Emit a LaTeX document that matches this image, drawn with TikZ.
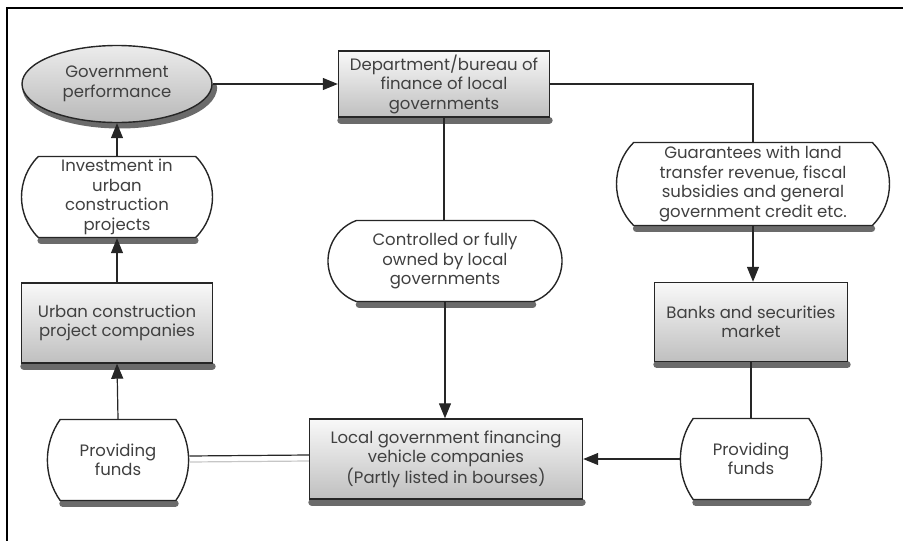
\documentclass[tikz,border=0pt]{standalone}
\usepackage{fontspec}
\setmainfont{Poppins}
\usetikzlibrary{shapes.geometric,shapes.misc,backgrounds,arrows.meta}

\begin{document}
\begin{tikzpicture}[x=1pt,y=-1pt,
  every node/.style={font=\fontsize{16.5}{19.5}\selectfont, text=black!75, align=center,
    inner sep=0pt, line width=1.4pt, draw=black!85},
  greybox/.style={rectangle, top color=gray!5, bottom color=gray!50},
  pill/.style={fill=white},
  pillA/.style={rounded rectangle, rounded rectangle arc length=90},
  pillB/.style={rounded rectangle, rounded rectangle arc length=140},
  pillC/.style={rounded rectangle, rounded rectangle arc length=70},
  oval/.style={ellipse, top color=gray!15, bottom color=gray!55},
  shadowline/.style={line width=7pt, draw=black!58, line cap=round},
  link/.style={line width=1.2pt, draw=black!85},
  tip/.style={link, -{Triangle[length=15pt,width=12pt]}}]
  \useasboundingbox (0,0) rectangle (903,541);
  % frame
  \draw[line width=2.6pt] (7,541) -- (7,8) -- (903,8);
  % nodes
  \node[oval, minimum width=190pt, minimum height=77pt] (gov) at (117,84) {Government\\performance};
  \node[greybox, minimum width=211pt, minimum height=66pt] (dept) at (444,84) {Department/bureau of\\finance of local\\governments};
  \node[pill, pillA, minimum width=191pt, minimum height=81pt] (invest) at (117,197) {Investment in\\urban\\construction\\projects};
  \node[greybox, minimum width=191pt, minimum height=80pt] (urban) at (117,323) {Urban construction\\project companies};
  \node[pill, pillC, minimum width=120pt, minimum height=81pt] (prov1) at (118,460) {Providing\\funds};
  \node[pill, pillB, minimum width=234pt, minimum height=81pt] (ctrl) at (445,261) {Controlled or fully\\owned by local\\governments};
  \node[greybox, minimum width=273pt, minimum height=80pt] (lgfv) at (446,459) {Local government financing\\vehicle companies\\(Partly listed in bourses)};
  \node[pill, pillA, minimum width=273pt, minimum height=83pt] (guar) at (753,184) {Guarantees with land\\transfer revenue, fiscal\\subsidies and general\\government credit etc.};
  \node[greybox, minimum width=193pt, minimum height=79pt] (banks) at (751,322) {Banks and securities\\market};
  \node[pill, pillC, minimum width=121pt, minimum height=81pt] (prov2) at (751,459) {Providing\\funds};
  % shadows
  \begin{scope}[on background layer]
    \foreach \n in {dept,invest,urban,prov1,ctrl,lgfv,guar,banks,prov2}
      \draw[shadowline] ([shift={(3pt,-2.5pt)}]\n.south west) -- ([shift={(-1pt,-2.5pt)}]\n.south east);
    \draw[shadowline] ([shift={(1pt,-3pt)}]gov.east) arc[start angle=0, end angle=180, x radius=94, y radius=38];
  \end{scope}
  % connectors
  \draw[tip] (gov.east) -- (gov.east -| dept.west);
  \draw[link] (dept.east) -| (guar.north);
  \draw[tip] (guar.south) -- (guar.south |- banks.north);
  \draw[link] (banks.south) -- (banks.south |- prov2.north);
  \draw[tip] (prov2.west) -- (prov2.west -| lgfv.east);
  \draw[link] (dept.south) -- (dept.south |- ctrl.north);
  \draw[tip] (ctrl.south) -- (ctrl.south |- lgfv.north);
  \draw[link] ([yshift=4pt]lgfv.west) -- ([yshift=4pt]prov1.east);
  \draw[link, draw=gray!45] ([yshift=-2pt]lgfv.west) -- ([yshift=-2pt]prov1.east);
  \draw[tip] (prov1.north) -- (urban.south);
  \draw[tip] (urban.north) -- (invest.south);
  \draw[tip] (invest.north) -- (gov.south);
\end{tikzpicture}
\end{document}
